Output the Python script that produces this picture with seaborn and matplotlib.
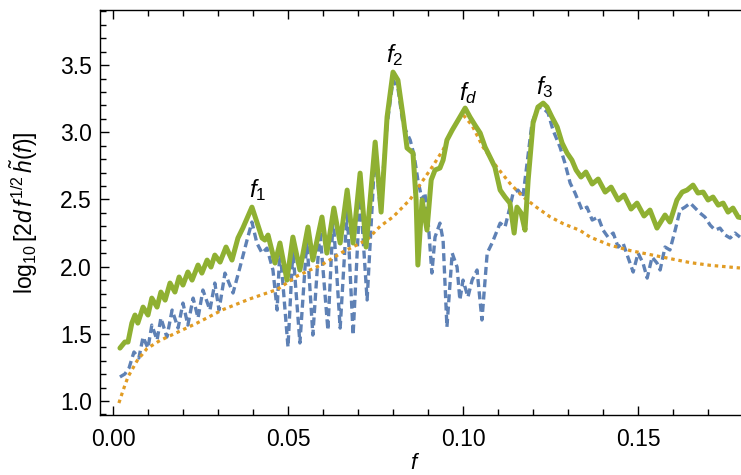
import numpy as np
import pandas as pd
import matplotlib
matplotlib.use("Agg")
import matplotlib.pyplot as plt
import seaborn as sns
from matplotlib.ticker import MultipleLocator

# ---- data ----
green_f = [0.0020, 0.0034, 0.0043, 0.0054, 0.0063, 0.0071, 0.0086, 0.0100, 0.0111, 0.0126,
           0.0137, 0.0149, 0.0163, 0.0177, 0.0189, 0.0200, 0.0214, 0.0226, 0.0243, 0.0254,
           0.0269, 0.0280, 0.0291, 0.0306, 0.0323, 0.0340, 0.0357, 0.0371, 0.0397, 0.0414,
           0.0426, 0.0434, 0.0443, 0.0463, 0.0477, 0.0497, 0.0514, 0.0534, 0.0557, 0.0571,
           0.0597, 0.0611, 0.0631, 0.0649, 0.0669, 0.0686, 0.0706, 0.0723, 0.0749, 0.0766,
           0.0783, 0.0800, 0.0814, 0.0829, 0.0840, 0.0857, 0.0866, 0.0871, 0.0883, 0.0897,
           0.0909, 0.0920, 0.0934, 0.0943, 0.0954, 0.0969, 0.0986, 0.1006, 0.1020, 0.1034,
           0.1049, 0.1063, 0.1077, 0.1091, 0.1106, 0.1120, 0.1134, 0.1146, 0.1154, 0.1166,
           0.1177, 0.1186, 0.1200, 0.1214, 0.1229, 0.1240, 0.1254, 0.1269, 0.1283, 0.1297,
           0.1311, 0.1323, 0.1337, 0.1351, 0.1369, 0.1386, 0.1406, 0.1423, 0.1443, 0.1460,
           0.1480, 0.1497, 0.1517, 0.1534, 0.1554, 0.1577, 0.1591, 0.1611, 0.1626, 0.1640,
           0.1657, 0.1671, 0.1686, 0.1700, 0.1714, 0.1729, 0.1743, 0.1757, 0.1771, 0.1786,
           0.1800]
green_v = [1.394, 1.439, 1.439, 1.580, 1.640, 1.580, 1.699, 1.640, 1.766, 1.699,
           1.811, 1.751, 1.878, 1.811, 1.923, 1.863, 1.960, 1.900, 2.012, 1.952,
           2.049, 1.997, 2.086, 2.034, 2.146, 2.049, 2.213, 2.287, 2.443, 2.309,
           2.213, 2.198, 2.235, 2.027, 2.176, 1.900, 2.220, 1.975, 2.295, 2.049,
           2.369, 2.101, 2.436, 2.176, 2.570, 2.176, 2.696, 2.146, 2.927, 2.406,
           3.113, 3.448, 3.388, 3.113, 2.883, 2.846, 2.496, 2.012, 2.496, 2.272,
           2.645, 2.719, 2.734, 2.793, 2.942, 3.016, 3.091, 3.180, 3.113, 3.054,
           2.994, 2.890, 2.816, 2.741, 2.570, 2.518, 2.473, 2.250, 2.443, 2.399,
           2.272, 2.645, 3.069, 3.188, 3.217, 3.188, 3.113, 3.039, 2.920, 2.846,
           2.793, 2.719, 2.667, 2.704, 2.615, 2.652, 2.555, 2.592, 2.496, 2.533,
           2.429, 2.473, 2.377, 2.421, 2.287, 2.384, 2.332, 2.496, 2.555, 2.570,
           2.607, 2.548, 2.555, 2.496, 2.518, 2.458, 2.473, 2.406, 2.436, 2.369,
           2.362]

blue_f = [0.0020, 0.0034, 0.0046, 0.0060, 0.0074, 0.0086, 0.0100, 0.0111, 0.0126, 0.0137,
          0.0154, 0.0169, 0.0186, 0.0200, 0.0214, 0.0229, 0.0243, 0.0257, 0.0277, 0.0291,
          0.0303, 0.0320, 0.0343, 0.0363, 0.0383, 0.0397, 0.0411, 0.0426, 0.0440, 0.0457,
          0.0469, 0.0477, 0.0500, 0.0514, 0.0534, 0.0554, 0.0571, 0.0591, 0.0614, 0.0629,
          0.0649, 0.0669, 0.0686, 0.0706, 0.0726, 0.0749, 0.0763, 0.0783, 0.0800, 0.0814,
          0.0829, 0.0849, 0.0860, 0.0871, 0.0883, 0.0891, 0.0900, 0.0911, 0.0920, 0.0934,
          0.0943, 0.0954, 0.0969, 0.0983, 0.0991, 0.1000, 0.1014, 0.1026, 0.1040, 0.1054,
          0.1069, 0.1083, 0.1106, 0.1120, 0.1134, 0.1143, 0.1157, 0.1171, 0.1183, 0.1197,
          0.1214, 0.1229, 0.1243, 0.1257, 0.1277, 0.1291, 0.1306, 0.1320, 0.1340, 0.1354,
          0.1369, 0.1386, 0.1400, 0.1414, 0.1429, 0.1443, 0.1457, 0.1471, 0.1486, 0.1500,
          0.1514, 0.1526, 0.1540, 0.1554, 0.1563, 0.1577, 0.1591, 0.1606, 0.1620, 0.1634,
          0.1649, 0.1663, 0.1677, 0.1691, 0.1706, 0.1720, 0.1734, 0.1749, 0.1763, 0.1777,
          0.1791]
blue_v = [1.179, 1.201, 1.246, 1.365, 1.320, 1.476, 1.394, 1.565, 1.454, 1.618,
          1.476, 1.677, 1.543, 1.729, 1.565, 1.766, 1.618, 1.826, 1.677, 1.878,
          1.677, 1.952, 1.804, 1.997, 2.198, 2.332, 2.176, 2.101, 2.138, 1.975,
          1.677, 2.146, 1.402, 2.124, 1.432, 2.198, 1.491, 2.272, 1.528, 2.369,
          1.543, 2.421, 1.491, 2.548, 1.752, 2.868, 2.443, 3.054, 3.388, 3.329,
          3.054, 2.942, 2.831, 2.645, 2.496, 2.548, 2.347, 1.952, 2.220, 2.324,
          2.198, 1.551, 2.101, 1.997, 1.752, 1.900, 1.774, 1.900, 1.975, 1.603,
          2.101, 2.176, 2.324, 2.295, 2.443, 2.548, 2.570, 2.518, 2.771, 3.069,
          3.188, 3.180, 3.143, 3.016, 2.890, 2.771, 2.622, 2.548, 2.421, 2.443,
          2.347, 2.369, 2.272, 2.220, 2.250, 2.146, 2.176, 2.071, 1.960, 2.101,
          2.027, 1.915, 2.071, 2.027, 1.975, 2.146, 2.124, 2.272, 2.421, 2.443,
          2.473, 2.436, 2.399, 2.369, 2.309, 2.272, 2.287, 2.235, 2.213, 2.250,
          2.220]

orange_f = [0.0017, 0.0029, 0.0043, 0.0069, 0.0097, 0.0134, 0.0183, 0.0240, 0.0314, 0.0391,
            0.0469, 0.0526, 0.0600, 0.0657, 0.0726, 0.0763, 0.0800, 0.0849, 0.0877, 0.0914,
            0.0943, 0.0971, 0.0997, 0.1026, 0.1057, 0.1097, 0.1134, 0.1171, 0.1211, 0.1249,
            0.1286, 0.1334, 0.1363, 0.1420, 0.1477, 0.1534, 0.1591, 0.1649, 0.1706, 0.1791]
orange_v = [0.985, 1.08, 1.18, 1.30, 1.39, 1.45, 1.51, 1.58, 1.68, 1.76,
            1.83, 1.93, 2.02, 2.11, 2.20, 2.30, 2.37, 2.50, 2.61, 2.75,
            2.87, 3.03, 3.14, 3.05, 2.89, 2.74, 2.62, 2.52, 2.44, 2.37,
            2.32, 2.27, 2.22, 2.16, 2.12, 2.09, 2.06, 2.03, 2.01, 1.99]

peak_labels = [r"$f_1$", r"$f_2$", r"$f_d$", r"$f_3$"]
peak_f = [0.0414, 0.0806, 0.1014, 0.1234]
peak_v = [2.57, 3.575, 3.29, 3.34]

x_ticks = [0.00, 0.05, 0.10, 0.15]
y_ticks = [1.0, 1.5, 2.0, 2.5, 3.0, 3.5]

# ---- style ----
sns.set_theme(style="ticks")
plt.rcParams["font.family"] = ["Liberation Sans", "DejaVu Sans"]
plt.rcParams["mathtext.fontset"] = "custom"
plt.rcParams["mathtext.rm"] = "Liberation Sans"
plt.rcParams["mathtext.it"] = "Liberation Sans:italic"
plt.rcParams["mathtext.bf"] = "Liberation Sans:bold"

BLUE = "#5E81B5"
ORANGE = "#E19C24"
GREEN = "#8FB032"

fig = plt.figure(figsize=(7.41, 4.75), dpi=100)
ax = fig.add_axes([100 / 741, 60 / 475, 641 / 741, 405 / 475])

df_b = pd.DataFrame({"f": blue_f, "v": blue_v})
df_o = pd.DataFrame({"f": orange_f, "v": orange_v})
df_g = pd.DataFrame({"f": green_f, "v": green_v})

sns.lineplot(data=df_b, x="f", y="v", ax=ax, color=BLUE, lw=2.4, estimator=None,
             linestyle=(0, (2.4, 1.3)), dash_capstyle="butt", dash_joinstyle="round",
             zorder=2)
sns.lineplot(data=df_o, x="f", y="v", ax=ax, color=ORANGE, lw=2.3, estimator=None,
             linestyle=(0, (1.1, 1.2)), dash_capstyle="butt", zorder=3)
sns.lineplot(data=df_g, x="f", y="v", ax=ax, color=GREEN, lw=3.6, estimator=None,
             solid_joinstyle="round", solid_capstyle="round", zorder=4)

for lab, fx, fv in zip(peak_labels, peak_f, peak_v):
    ax.text(fx, fv, lab, fontsize=17.5, ha="center", va="center", color="black", zorder=5)

ax.set_xlim(-0.0037, 0.1794)
ax.set_ylim(0.896, 3.91)
ax.set_xticks(x_ticks)
ax.set_xticklabels([f"{t:.2f}" for t in x_ticks])
ax.set_yticks(y_ticks)
ax.set_yticklabels([f"{t:.1f}" for t in y_ticks])
ax.xaxis.set_minor_locator(MultipleLocator(0.01))
ax.yaxis.set_minor_locator(MultipleLocator(0.1))

ax.tick_params(axis="both", which="both", direction="in", top=True, right=False,
               colors="black", labelcolor="black", width=1.0)
ax.tick_params(axis="both", which="major", length=6.5, labelsize=16.5)
ax.tick_params(axis="y", which="major", pad=6)
ax.tick_params(axis="x", which="major", pad=9)
ax.tick_params(axis="both", which="minor", length=4.2)

for side in ["left", "bottom", "top"]:
    ax.spines[side].set_visible(True)
    ax.spines[side].set_color("black")
    ax.spines[side].set_linewidth(1.0)
ax.spines["right"].set_visible(False)

ax.set_ylabel(r"$\log_{10}[2d\,f^{1/2}\,\tilde{h}(f)]$", fontsize=16.5, color="black")
ax.yaxis.set_label_coords(-0.093, 0.5)
ax.set_xlabel(r"$f$", fontsize=16, color="black")
ax.xaxis.set_label_coords(0.491, -0.146)
ax.xaxis.label.set_va("bottom")

fig.savefig("out.png", dpi=100)
